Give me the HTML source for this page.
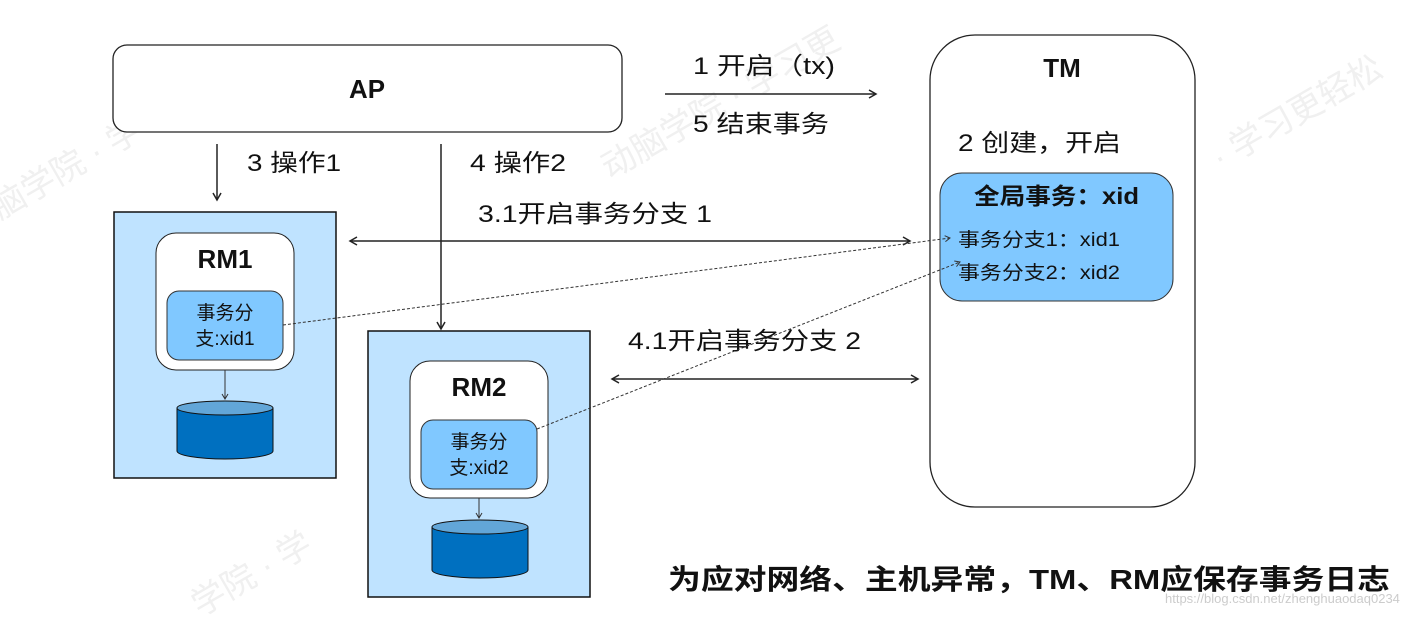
<!DOCTYPE html>
<html><head><meta charset="utf-8"><style>
body{margin:0;width:1421px;height:617px;background:#fff;overflow:hidden;font-family:"Liberation Sans","Noto Sans CJK SC",sans-serif;}
svg{position:absolute;left:0;top:0}
text{font-family:"Liberation Sans","Noto Sans CJK SC",sans-serif;fill:#111}
</style></head><body>
<svg width="1421" height="617" viewBox="0 0 1421 617">
<defs>
<marker id="a" markerWidth="10" markerHeight="10" refX="8" refY="5" orient="auto-start-reverse" markerUnits="userSpaceOnUse"><path d="M1,1 L8,5 L1,9" fill="none" stroke="#222" stroke-width="1.5"/></marker>
<marker id="s" markerWidth="8" markerHeight="8" refX="6" refY="4" orient="auto" markerUnits="userSpaceOnUse"><path d="M1,1 L6,4 L1,7" fill="none" stroke="#333" stroke-width="1"/></marker>
</defs>
<g font-size="34">
<text x="0" y="220" transform="rotate(-30 0 220)" style="fill:#f0f0f0">脑学院 · 学习更轻松</text>
<text x="610" y="180" transform="rotate(-30 610 180)" style="fill:#f0f0f0">动脑学院 · 学习更</text>
<text x="1220" y="170" transform="rotate(-30 1220 170)" style="fill:#f0f0f0">· 学习更轻松</text>
<text x="200" y="617" transform="rotate(-30 200 617)" style="fill:#f0f0f0">学院 · 学</text>
</g>
<rect x="113" y="45" width="509" height="87" rx="14" fill="#fff" stroke="#222" stroke-width="1.3"/>
<text x="367" y="98" font-size="26" text-anchor="middle" font-weight="bold" textLength="36" lengthAdjust="spacingAndGlyphs">AP</text>
<rect x="930" y="35" width="265" height="472" rx="45" fill="#fff" stroke="#222" stroke-width="1.3"/>
<text x="1062" y="77" font-size="26" text-anchor="middle" font-weight="bold">TM</text>
<text x="958" y="151" font-size="24" textLength="163" lengthAdjust="spacingAndGlyphs">2 创建，开启</text>
<rect x="940" y="173" width="233" height="128" rx="22" fill="#80c8ff" stroke="#333" stroke-width="1"/>
<text x="974" y="204" font-size="23" font-weight="bold" textLength="165" lengthAdjust="spacingAndGlyphs">全局事务：xid</text>
<text x="958" y="246" font-size="19" textLength="162" lengthAdjust="spacingAndGlyphs">事务分支1：xid1</text>
<text x="958" y="279" font-size="19" textLength="162" lengthAdjust="spacingAndGlyphs">事务分支2：xid2</text>
<rect x="114" y="212" width="222" height="266" fill="#bfe3ff" stroke="#111" stroke-width="1.5"/>
<rect x="156" y="233" width="138" height="137" rx="20" fill="#fff" stroke="#222" stroke-width="1"/>
<text x="225" y="268" font-size="26" text-anchor="middle" font-weight="bold">RM1</text>
<rect x="167" y="291" width="116" height="69" rx="12" fill="#80c8ff" stroke="#333" stroke-width="1"/>
<text x="225" y="319" font-size="19" text-anchor="middle">事务分</text>
<text x="225" y="345" font-size="19" text-anchor="middle">支:xid1</text>
<line x1="225" y1="370" x2="225" y2="399" stroke="#333" marker-end="url(#s)"/>
<path d="M177,408 v43 a48,8 0 0 0 96,0 v-43" fill="#0070c0" stroke="#111"/>
<ellipse cx="225" cy="408" rx="48" ry="7" fill="#62a6d8" stroke="#111"/>
<rect x="368" y="331" width="222" height="266" fill="#bfe3ff" stroke="#111" stroke-width="1.5"/>
<rect x="410" y="361" width="138" height="137" rx="20" fill="#fff" stroke="#222" stroke-width="1"/>
<text x="479" y="396" font-size="26" text-anchor="middle" font-weight="bold">RM2</text>
<rect x="421" y="420" width="116" height="69" rx="12" fill="#80c8ff" stroke="#333" stroke-width="1"/>
<text x="479" y="448" font-size="19" text-anchor="middle">事务分</text>
<text x="479" y="474" font-size="19" text-anchor="middle">支:xid2</text>
<line x1="479" y1="498" x2="479" y2="518" stroke="#333" marker-end="url(#s)"/>
<path d="M432,527 v43 a48,8 0 0 0 96,0 v-43" fill="#0070c0" stroke="#111"/>
<ellipse cx="480" cy="527" rx="48" ry="7" fill="#62a6d8" stroke="#111"/>
<line x1="665" y1="94" x2="876" y2="94" stroke="#222" stroke-width="1.5" marker-end="url(#a)"/>
<text x="693" y="74" font-size="24" textLength="142" lengthAdjust="spacingAndGlyphs">1 开启（tx)</text>
<text x="693" y="132" font-size="24" textLength="136" lengthAdjust="spacingAndGlyphs">5 结束事务</text>
<line x1="217" y1="144" x2="217" y2="200" stroke="#222" stroke-width="1.5" marker-end="url(#a)"/>
<text x="247" y="171" font-size="24" textLength="94" lengthAdjust="spacingAndGlyphs">3 操作1</text>
<line x1="441" y1="144" x2="441" y2="329" stroke="#222" stroke-width="1.5" marker-end="url(#a)"/>
<text x="470" y="171" font-size="24" textLength="96" lengthAdjust="spacingAndGlyphs">4 操作2</text>
<line x1="350" y1="241" x2="910" y2="241" stroke="#222" stroke-width="1.5" marker-start="url(#a)" marker-end="url(#a)"/>
<text x="478" y="222" font-size="24" textLength="234" lengthAdjust="spacingAndGlyphs">3.1开启事务分支 1</text>
<line x1="612" y1="379" x2="918" y2="379" stroke="#222" stroke-width="1.5" marker-start="url(#a)" marker-end="url(#a)"/>
<text x="628" y="349" font-size="24" textLength="233" lengthAdjust="spacingAndGlyphs">4.1开启事务分支 2</text>
<line x1="283" y1="325" x2="950" y2="238" stroke="#333" stroke-dasharray="3,2" marker-end="url(#s)"/>
<line x1="537" y1="429" x2="960" y2="262" stroke="#333" stroke-dasharray="3,2" marker-end="url(#s)"/>
<text x="668" y="589" font-size="28" font-weight="bold" textLength="722" lengthAdjust="spacingAndGlyphs">为应对网络、主机异常，TM、RM应保存事务日志</text>
<text x="1165" y="603" font-size="13" style="fill:#ccc">https://blog.csdn.net/zhenghuaodaq0234</text>
</svg>
</body></html>
